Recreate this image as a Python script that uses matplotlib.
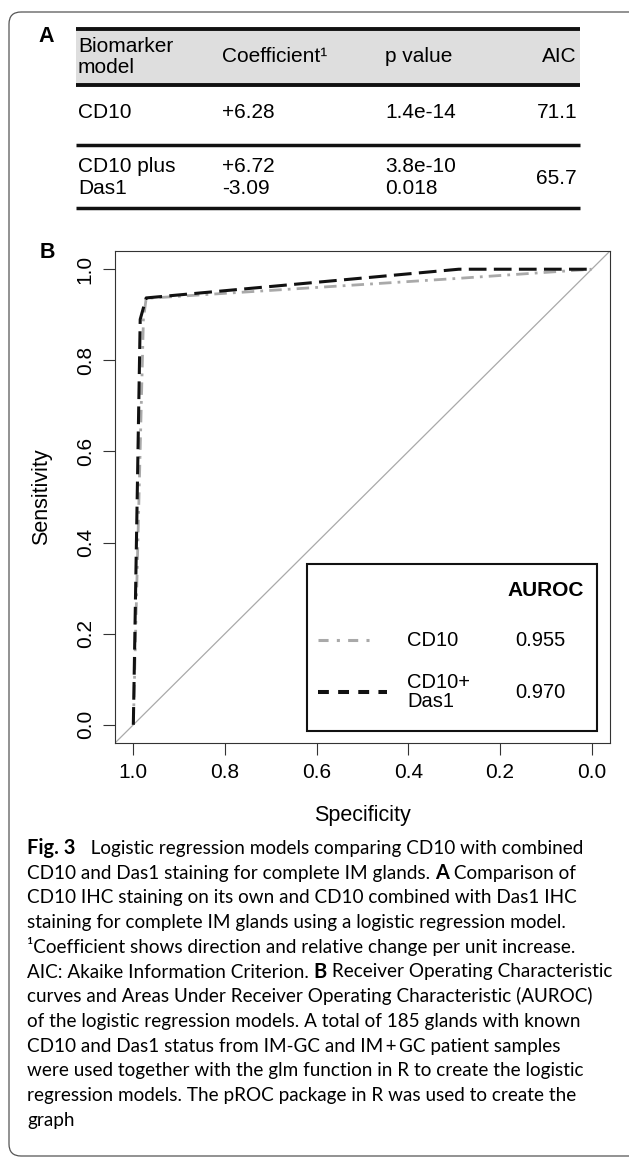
import matplotlib

matplotlib.use("Agg")
import matplotlib.pyplot as plt
from matplotlib.patches import FancyBboxPatch, Rectangle

# ---- table values (panel A) ----
model_names = [["CD10"], ["CD10 plus", "Das1"]]
coefficients = [["+6.28"], ["+6.72", "-3.09"]]
p_values = [["1.4e-14"], ["3.8e-10", "0.018"]]
aic_values = ["71.1", "65.7"]
header = ["Biomarker\nmodel", "Coefficient\u00b9", "p value", "AIC"]

# ---- ROC curves (panel B), specificity / sensitivity ----
cd10_spec = [1.0, 0.978, 0.972, 0.29, 0.0]
cd10_sens = [0.0, 0.89, 0.936, 0.98, 1.0]
combo_spec = [1.0, 0.985, 0.972, 0.29, 0.0]
combo_sens = [0.0, 0.89, 0.937, 1.0, 1.0]
legend_names = ["CD10", "CD10+\nDas1"]
auroc = ["0.955", "0.970"]
ticks = [0.0, 0.2, 0.4, 0.6, 0.8, 1.0]

caption = [
    [("Fig. 3", True), ("   Logistic regression models comparing CD10 with combined", False)],
    [("CD10 and Das1 staining for complete IM glands. ", False), ("A", True), (" Comparison of", False)],
    [("CD10 IHC staining on its own and CD10 combined with Das1 IHC", False)],
    [("staining for complete IM glands using a logistic regression model.", False)],
    [("\u00b9Coefficient shows direction and relative change per unit increase.", False)],
    [("AIC: Akaike Information Criterion. ", False), ("B", True), (" Receiver Operating Characteristic", False)],
    [("curves and Areas Under Receiver Operating Characteristic (AUROC)", False)],
    [("of the logistic regression models. A total of 185 glands with known", False)],
    [("CD10 and Das1 status from IM-GC and IM\u2009+\u2009GC patient samples", False)],
    [("were used together with the glm function in R to create the logistic", False)],
    [("regression models. The pROC package in R was used to create the", False)],
    [("graph", False)],
]

GREY = "#a9a9a9"
SANS = "Liberation Sans"
CAP = ["Lato", "DejaVu Sans"]

fig = plt.figure(figsize=(6.29, 11.59), dpi=100)

# ROC axes
ax = fig.add_axes([115 / 629, 1 - 743 / 1159, 495 / 629, 492 / 1159])
ax.plot(cd10_spec, cd10_sens, color=GREY, lw=2.0, dashes=(4.5, 2.2, 1.0, 2.2))
ax.plot(combo_spec, combo_sens, color="#111111", lw=2.2, dashes=(5.8, 2.4))
ax.axline((1, 0), (0, 1), color=GREY, lw=0.9, zorder=1)
ax.set_xlim(1.04, -0.04)
ax.set_ylim(-0.04, 1.04)
ax.set_xticks(ticks)
ax.set_yticks(ticks)
ax.set_xticklabels([f"{t:.1f}" for t in ticks], family=SANS, fontsize=15)
ax.set_yticklabels([f"{t:.1f}" for t in ticks], family=SANS, fontsize=15,
                   rotation=90, va="center")
ax.tick_params(length=8.6, width=0.8, color="#333333", pad=6.0)
for sp in ax.spines.values():
    sp.set_linewidth(0.8)
    sp.set_color("#333333")

# overlay in pixel coordinates
ov = fig.add_axes([0, 0, 1, 1], zorder=5)
ov.set_xlim(0, 629)
ov.set_ylim(1159, 0)
ov.axis("off")
ov.patch.set_alpha(0)

ov.add_patch(FancyBboxPatch((9, 12), 640, 1144, boxstyle="round,pad=0,rounding_size=12",
                            fc="none", ec="#555555", lw=0.9, clip_on=False))

# axis labels
ov.text(42, 497, "Sensitivity", family=SANS, fontsize=15.5, rotation=90,
        ha="center", va="center")
ov.text(362, 815, "Specificity", family=SANS, fontsize=15.5, ha="center", va="center")

# panel letters
ov.text(38, 37, "A", family=SANS, fontsize=15.5, fontweight="bold", va="center")
ov.text(40, 253, "B", family=SANS, fontsize=15.5, fontweight="bold", va="center")

# ---- table ----
tl, tr = 76, 580
ov.add_patch(Rectangle((tl, 29), tr - tl, 56, fc="#dedede", ec="none"))
for yy, lw in [(29, 2.8), (85, 2.8), (145, 2.5), (208, 2.5)]:
    ov.plot([tl, tr], [yy, yy], color="#111111", lw=lw, solid_capstyle="butt")
col_x = [78, 222, 385]
ts = 15
ov.text(col_x[0], 57, header[0], family=SANS, fontsize=ts, va="center", linespacing=1.1)
for x, h in zip(col_x[1:], header[1:3]):
    ov.text(x, 57, h, family=SANS, fontsize=ts, va="center")
ov.text(577, 57, header[3], family=SANS, fontsize=ts, va="center", ha="right")
row_y = [[113], [167, 189]]
for r in range(2):
    for cells, x in zip([model_names[r], coefficients[r], p_values[r]], col_x):
        for txt, yy in zip(cells, row_y[r]):
            ov.text(x, yy, txt, family=SANS, fontsize=ts, va="center")
    ov.text(577, sum(row_y[r]) / len(row_y[r]), aic_values[r], family=SANS,
            fontsize=ts, va="center", ha="right")

# ---- legend ----
ov.add_patch(Rectangle((307, 564), 290, 167, fc="white", ec="#111111", lw=1.5))
ov.text(584, 590, "AUROC", family=SANS, fontsize=15, fontweight="bold",
        ha="right", va="center")
ov.plot([318, 375], [640, 640], color=GREY, lw=2.2, dashes=(3.3, 2.7, 1.0, 2.7))
ov.plot([318, 387], [692, 692], color="#111111", lw=2.9, dashes=(2.7, 2.3))
ov.text(407, 640, legend_names[0], family=SANS, fontsize=14.5, va="center")
ov.text(407, 692, legend_names[1], family=SANS, fontsize=14.5, va="center", linespacing=1.05)
for txt, yy in zip(auroc, [640, 692]):
    ov.text(515, yy, txt, family=SANS, fontsize=14.5, va="center")

# ---- caption ----
renderer = fig.canvas.get_renderer()
cs = 13.6


def seg_size(bold):
    return cs + 0.8 if bold else cs


def width_of(s, bold):
    t = ov.text(0, 0, s.replace(" ", "\u00a0"), family=CAP, fontsize=seg_size(bold),
                fontweight="bold" if bold else "normal")
    w = t.get_window_extent(renderer).width
    t.remove()
    return w


for i, segs in enumerate(caption):
    x = 27
    y = 854 + i * 24.7
    for s, bold in segs:
        ov.text(x, y, s.replace(" ", "\u00a0"), family=CAP, fontsize=seg_size(bold),
                fontweight="bold" if bold else "normal", va="baseline")
        x += width_of(s, bold)

fig.savefig("out.png", dpi=100)
